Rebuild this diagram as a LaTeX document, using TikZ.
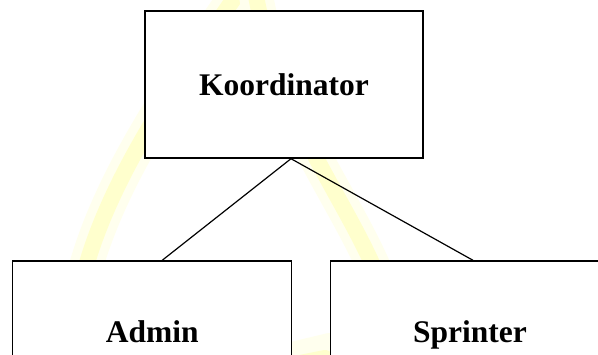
\documentclass[tikz,border=0pt]{standalone}
\usepackage{fontspec}
\setmainfont{Liberation Serif}
\begin{document}
\begin{tikzpicture}[x=1pt,y=-1pt,
  box/.style={draw=black, line width=1.4pt, fill=white, rectangle,
    font=\fontsize{31.5}{36}\selectfont\bfseries,
    text height=21pt, text depth=0pt, inner sep=0pt},
  wm/.style={line cap=round, line width=34pt, draw={rgb,255:red,255;green,255;blue,238}},
  wmcore/.style={line cap=round, line width=16pt, draw={rgb,255:red,255;green,255;blue,205}},
  link/.style={draw=black, line width=1.2pt}]
\useasboundingbox (0,0) rectangle (598,354);
\clip (0,0) rectangle (598,354);
\fill[white] (0,0) rectangle (598,354);
% faint watermark
\draw[wm] (240,-10) .. controls (170,90) and (110,180) .. (85,270);
\draw[wmcore] (240,-10) .. controls (170,90) and (110,180) .. (85,270);
\draw[wm] (255,-10) .. controls (275,110) and (340,190) .. (375,270);
\draw[wmcore] (255,-10) .. controls (275,110) and (340,190) .. (375,270);
\draw[wm] (280,362) -- (330,350);
\draw[wmcore] (285,366) -- (325,358);
% boxes
\node[box, minimum width=278pt, minimum height=147pt] (K) at (284,84.5) {Koordinator};
\node[box, minimum width=279pt, minimum height=142pt] (A) at (152.2,332) {Admin};
\node[box, minimum width=279pt, minimum height=142pt] (S) at (470,332) {Sprinter};
\coordinate (top) at ([xshift=7pt]K.south);
\coordinate (ta) at ([xshift=10pt]A.north);
\coordinate (ts) at ([xshift=3pt]S.north);
\draw[link] (top) -- (ta);
\draw[link] (top) -- (ts);
\end{tikzpicture}
\end{document}
